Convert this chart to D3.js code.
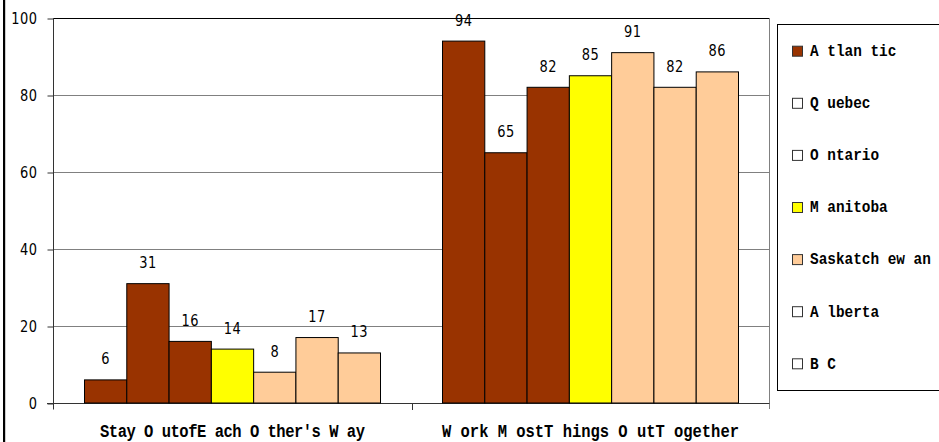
<!DOCTYPE html>
<html><head><meta charset="utf-8">
<script src="https://cdn.jsdelivr.net/npm/d3@7"></script>
<style>html,body{margin:0;padding:0;background:#fff;overflow:hidden}</style>
</head><body><svg id="c" width="939" height="442"></svg>
<script>
const categories = ["Stay O utofE ach O ther's W ay", "W ork M ostT hings O utT ogether"];
const regions = ["Atlantic","Quebec","Ontario","Manitoba","Saskatchewan","Alberta","BC"];
const legendLabels = ["A tlan tic","Q uebec","O ntario","M anitoba","Saskatch ew an","A lberta","B C"];
const stayOut = [6,31,16,14,8,17,13];
const workOut = [94,65,82,85,91,82,86];
const barColors = ["#993300","#993300","#993300","#FFFF00","#FFCC99","#FFCC99","#FFCC99"];
const legendColors = ["#993300","#FFFFFF","#FFFFFF","#FFFF00","#FFCC99","#FFFFFF","#FFFFFF"];
const yTicks = [0,20,40,60,80,100];

const seriesValues = [stayOut, workOut];
const svg = d3.select("#c");
const SY = 1.2;

const x0 = d3.scaleBand().domain(categories).range([53.5, 769.5]).padding(0);
const x1 = d3.scaleBand().domain(regions).range([31, x0.bandwidth()-31]).padding(0);
const y = d3.scaleLinear().domain([0,100]).range([403, 18]);

// left border
svg.append("rect").attr("x",3).attr("y",0).attr("width",2.2).attr("height",442).attr("fill","#000");

// gridlines
svg.append("g").selectAll("line").data(yTicks.filter(d=>d>0 && d<100)).join("line")
  .attr("x1",53.5).attr("x2",769.5).attr("y1",d=>Math.round(y(d))+0.5).attr("y2",d=>Math.round(y(d))+0.5)
  .attr("stroke","#808080").attr("stroke-width",1);
// top border
svg.append("line").attr("x1",53.5).attr("x2",769.5).attr("y1",Math.round(y(100))+0.5).attr("y2",Math.round(y(100))+0.5)
  .attr("stroke","#000");
// right border
svg.append("line").attr("x1",769.5).attr("x2",769.5).attr("y1",y(100)).attr("y2",409).attr("stroke","#808080");

// y axis
const yAxis = d3.axisLeft(y).tickValues(yTicks).tickSize(6).tickPadding(0).tickFormat(d3.format("d"));
const gy = svg.append("g").attr("transform","translate(53.5,0.5)").call(yAxis);
gy.select(".domain").attr("d","M0,"+(y(100)-0.5)+"V409").attr("stroke","#333");
gy.selectAll(".tick line").attr("stroke","#333");
gy.selectAll(".tick text").each(function(d){
  const t = d3.select(this);
  t.attr("x",null).attr("dy",null)
   .attr("text-anchor","end").attr("dominant-baseline","central")
   .attr("transform","translate(-16,0) scale(1,"+SY+")")
   .attr("font-family","DejaVu Sans").attr("font-size",13).attr("fill","#000").attr("letter-spacing",0.5);
});

// x axis
const xAxis = d3.axisBottom(x0).tickSize(0).tickFormat("");
const gx = svg.append("g").attr("transform","translate(0,403.5)").call(xAxis);
gx.select(".domain").attr("d","M47,0H769.5").attr("stroke","#333");
svg.append("g").selectAll("line").data(categories.slice(1)).join("line")
  .attr("x1",d=>Math.round(x0(d))+0.5).attr("x2",d=>Math.round(x0(d))+0.5)
  .attr("y1",403).attr("y2",410).attr("stroke","#333");

// category labels
svg.append("g").selectAll("text").data(categories).join("text")
  .attr("transform",d=>"translate("+(x0(d)+x0.bandwidth()/2)+",432) scale(1,"+SY+")")
  .attr("text-anchor","middle").attr("dominant-baseline","central")
  .attr("font-family","Liberation Mono").attr("font-weight","bold").attr("font-size",15.5)
  .attr("textLength",(d,i)=>i===0?265:297).attr("lengthAdjust","spacing")
  .attr("fill","#000").text(d=>d);

// bars
const bars = [];
categories.forEach((c,ci)=>regions.forEach((r,ri)=>bars.push({c, r, ri, v: seriesValues[ci][ri]})));
svg.append("g").selectAll("rect").data(bars).join("rect")
  .attr("x",d=>x0(d.c)+x1(d.r)).attr("width",x1.bandwidth())
  .attr("y",d=>y(d.v)).attr("height",d=>y(0)-y(d.v))
  .attr("fill",d=>barColors[d.ri]).attr("stroke","#000").attr("stroke-width",1);

// value labels
svg.append("g").selectAll("text").data(bars).join("text")
  .attr("transform",d=>"translate("+(x0(d.c)+x1(d.r)+x1.bandwidth()/2)+","+(y(d.v)-21)+") scale(1,"+SY+")")
  .attr("text-anchor","middle").attr("dominant-baseline","central")
  .attr("font-family","DejaVu Sans").attr("font-size",13).attr("letter-spacing",0.5).attr("fill","#000")
  .text(d=>d.v);

// legend
svg.append("rect").attr("x",777.5).attr("y",24.5).attr("width",200).attr("height",366)
  .attr("fill","#fff").attr("stroke","#000");
const lg = svg.append("g").selectAll("g").data(regions).join("g")
  .attr("transform",(d,i)=>"translate(0,"+(51.7+i*52.1)+")");
lg.append("rect").attr("x",792.5).attr("y",-5.5).attr("width",10).attr("height",10)
  .attr("fill",(d,i)=>legendColors[i]).attr("stroke","#333");
lg.append("text").attr("transform","translate(810,0) scale(1,"+SY+")")
  .attr("dominant-baseline","central")
  .attr("font-family","Liberation Mono").attr("font-weight","bold").attr("font-size",14.4)
  .attr("fill","#000").text((d,i)=>legendLabels[i]);
</script></body></html>
